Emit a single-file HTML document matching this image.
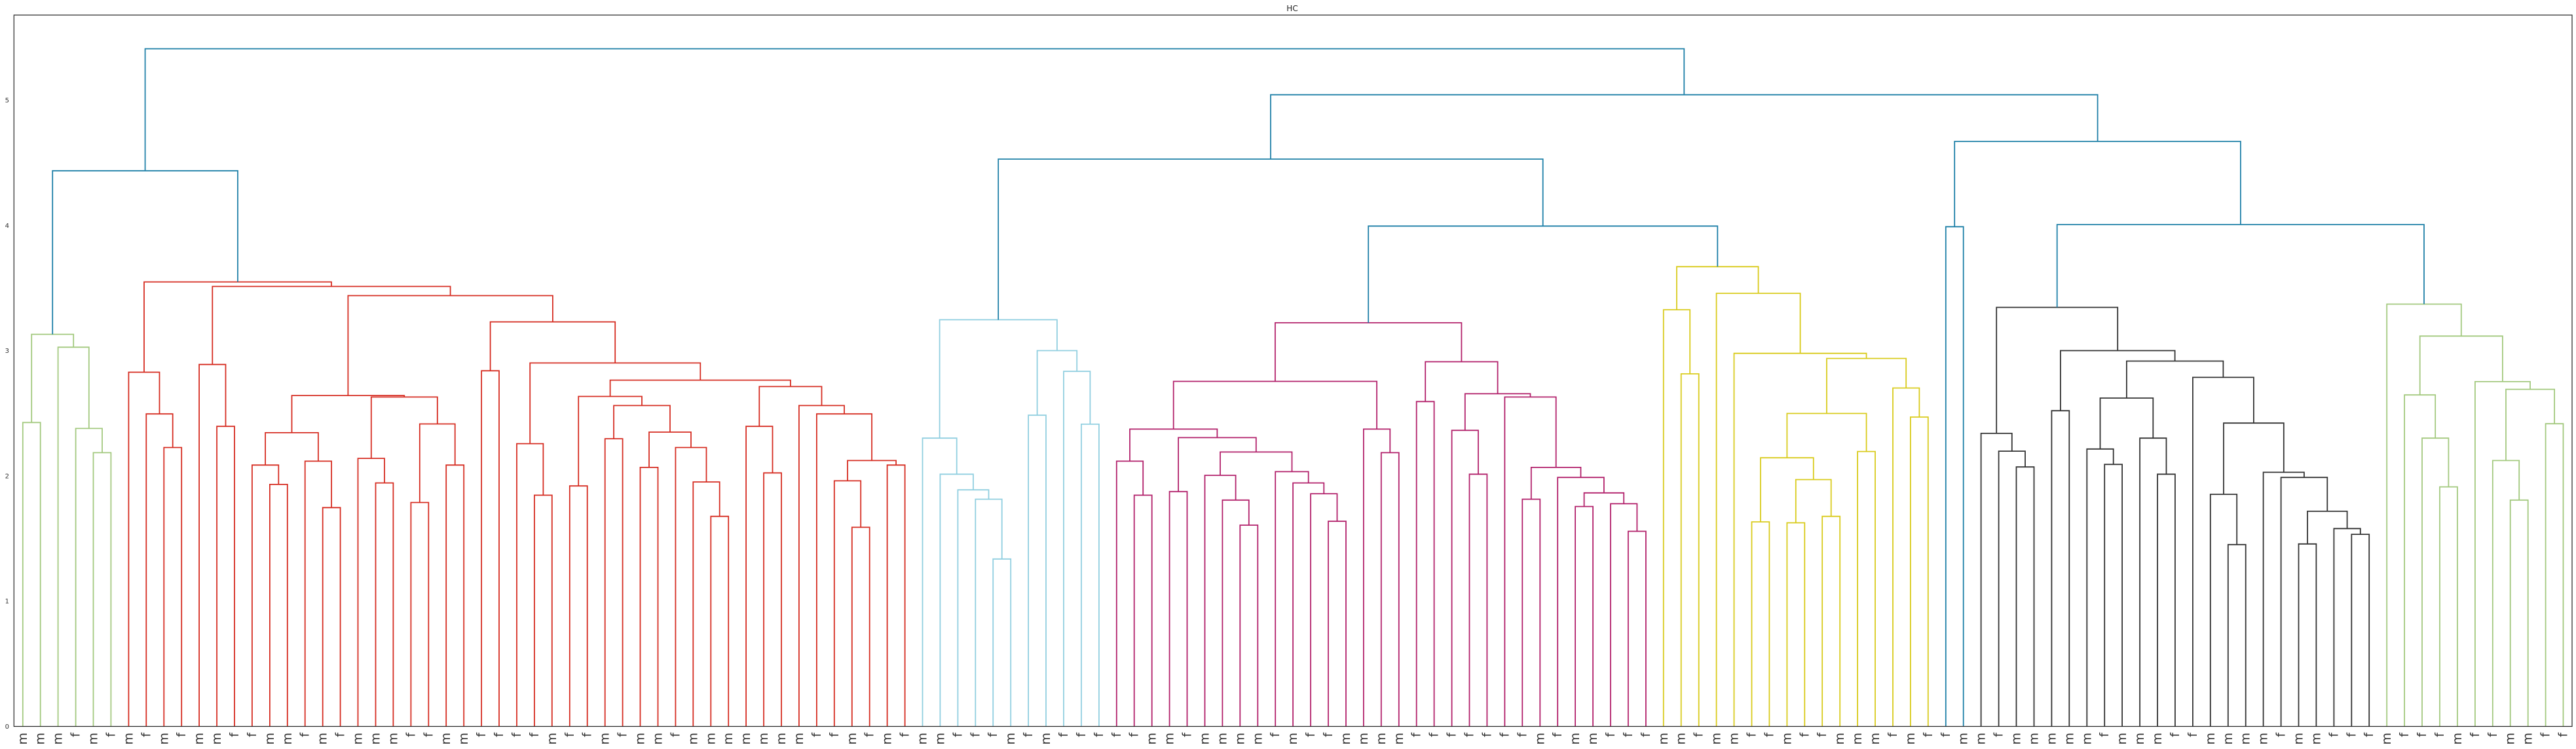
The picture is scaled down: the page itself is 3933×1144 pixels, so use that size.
<!DOCTYPE html>
<html><head><meta charset="utf-8"><title>HC</title>
<style>html,body{margin:0;padding:0;background:#fff}svg{display:block}</style></head>
<body>
<svg id="chart" xmlns="http://www.w3.org/2000/svg" width="3933" height="1144" viewBox="0 0 3933 1144">
<rect x="0" y="0" width="3933" height="1144" fill="#fff"/>
<text x="1973" y="17" font-family="DejaVu Sans, Liberation Sans, sans-serif" font-size="12" text-anchor="middle" fill="#222">HC</text>
<g id="links"></g>
<g id="yaxis"></g>
<g id="xaxis"></g>
<rect x="21.3" y="23" width="3905.7" height="1086.5" fill="none" stroke="#222" stroke-width="1.2"/>
</svg>
<script>
const leafLabels = ["m","m","m","f","m","f","m","f","m","f","m","m","f","f","m","m","f","m","f","m","m","m","f","f","m","m","f","f","f","f","m","f","f","m","f","m",
"m","f","m","m","m","m","m","m","m","f","f","m","f","m","f","m","m","f","f","f","m","f","m","f","f","f","f","f","m","m","f","m","m","m","m","f","m",
"f","f","m","m","m","m","f","f","f","f","f","f","f","m","f","m","m","f","f","f","m","m","f","m","m","f","f","m","f","f","m","m","m","f","m","f",
"f","m","m","f","m","m","m","m","m","f","m","m","m","f","f","m","m","m","m","f","m","m","f","f","f","m","f","f","f","m","f","f","m","m","f","f"];
const mergeLeft = ["0","4","3","2","#0","8","7","6","11","10","14","13","17","16","#11","20","19","22","24","#17","#16","#14","26","29","28","31","33","35","39","38","37","#27","#26","#25","42","41","47","46","49","#37","45","44","#35","#33","#24","#22","#21","#9","#7","#4",
"55","54","53","52","51","57","60","59","#55","#54",
"63","62","65","69","68","67","74","73","72","71","#65","#62","#61","77","76","#72","79","82","81","85","88","91","90","#80","87","#79","84","#78","#76","#75",
"94","93","98","100","102","#93","#92","104","#96","107","106","#98","97","96","#91",
"#89","#59","109",
"113","112","111","115","118","117","121","120","#113","125","124","129","132","131","#119","128","127","#118","123","#116","#111","#110",
"137","136","135","141","140","143","#134","139","#132","134",
"#129","#107","#106","#49"];
const mergeRight = ["1","5","#1","#2","#3","9","#5","#6","12","#8","15","#10","18","#12","#13","21","#15","23","25","#18","#19","#20","27","30","#23","32","34","36","40","#28","#29","#30","#31","#32","43","#34","48","#36","50","#38","#39","#40","#41","#42","#43","#44","#45","#46","#47","#48",
"56","#50","#51","#52","#53","58","61","#56","#57","#58",
"64","#60","66","70","#63","#64","75","#66","#67","#68","#69","#70","#71","78","#73","#74","80","83","#77","86","89","92","#81","#82","#83","#84","#85","#86","#87","#88",
"95","#90","99","101","103","#94","#95","105","#97","108","#99","#100","#101","#102","#103",
"#104","#105","110",
"114","#108","#109","116","119","#112","122","#114","#115","126","#117","130","133","#120","#121","#122","#123","#124","#125","#126","#127","#128",
"138","#130","#131","142","#133","144","#135","#136","#137","#138",
"#139","#140","#141","#142"];
const mergeHeight = [2.427,2.186,2.379,3.028,3.131,2.227,2.495,2.828,2.396,2.890,1.932,2.087,1.747,2.118,2.345,1.944,2.140,1.788,2.087,2.415,2.630,2.642,2.840,1.846,2.258,1.920,2.297,2.068,1.677,1.952,2.227,2.350,2.562,2.635,2.024,2.396,1.590,1.961,2.087,2.123,2.495,2.562,2.714,2.765,2.902,3.230,3.440,3.513,3.549,4.437,
1.337,1.814,1.889,2.014,2.302,2.485,2.413,2.835,3.001,3.247,
1.846,2.118,1.875,1.607,1.807,2.005,1.638,1.858,1.944,2.034,2.191,2.306,2.374,2.186,2.374,2.755,2.594,2.014,2.364,1.814,1.756,1.558,1.778,1.865,1.988,2.068,2.630,2.656,2.912,3.223,
2.815,3.327,1.633,1.626,1.677,1.971,2.145,2.195,2.499,2.470,2.702,2.938,2.979,3.458,3.671,
3.995,4.530,3.990,
2.072,2.198,2.340,2.521,2.092,2.215,2.014,2.302,2.622,1.452,1.853,1.457,1.534,1.580,1.718,1.988,2.029,2.422,2.787,2.917,3.001,3.346,
1.913,2.302,2.647,1.807,2.123,2.417,2.692,2.753,3.117,3.372,
4.007,4.671,5.044,5.411];
const yTicks = [0,1,2,3,4,5];
const clusterColors = ["#a3c97f","#d62d22","#91cfe0","#b2216b","#d9cb1c","#333333","#a3c97f"];
const aboveColor = "#1f80a8";
const colorThreshold = 3.8;

const NS = "http://www.w3.org/2000/svg";
const X0 = 21.3, X1 = 3927, Y0 = 1109.5, YTOP = 23, YMAX = 5.68;
const N = leafLabels.length;
const xScale = v => X0 + (v / (10 * N)) * (X1 - X0);
const yScale = h => Y0 - (h / YMAX) * (Y0 - YTOP);

function ref(s) { return s[0] === "#" ? { m: +s.slice(1) } : { l: +s }; }
const nodeX = [], nodeH = [];
function pos(r) { return r.l !== undefined ? [5 + 10 * r.l, 0] : [nodeX[r.m], nodeH[r.m]]; }
for (let k = 0; k < mergeHeight.length; k++) {
  const a = pos(ref(mergeLeft[k])), b = pos(ref(mergeRight[k]));
  nodeX[k] = (a[0] + b[0]) / 2; nodeH[k] = mergeHeight[k];
}
const parent = [];
for (let k = 0; k < mergeHeight.length; k++) {
  [mergeLeft[k], mergeRight[k]].forEach(s => { const r = ref(s); if (r.m !== undefined) parent[r.m] = k; });
}
const roots = [];
for (let k = 0; k < mergeHeight.length; k++) {
  if (mergeHeight[k] < colorThreshold && (parent[k] === undefined || mergeHeight[parent[k]] >= colorThreshold)) roots.push(k);
}
roots.sort((a, b) => nodeX[a] - nodeX[b]);
const mColor = [];
roots.forEach((r, i) => {
  const stack = [r];
  while (stack.length) {
    const k = stack.pop(); mColor[k] = clusterColors[i % clusterColors.length];
    [mergeLeft[k], mergeRight[k]].forEach(s => { const rr = ref(s); if (rr.m !== undefined) stack.push(rr.m); });
  }
});
const gl = document.getElementById("links");
for (let k = 0; k < mergeHeight.length; k++) {
  const a = pos(ref(mergeLeft[k])), b = pos(ref(mergeRight[k])), h = mergeHeight[k];
  const p = document.createElementNS(NS, "path");
  p.setAttribute("d", `M${xScale(a[0]).toFixed(1)},${yScale(a[1]).toFixed(1)}V${yScale(h).toFixed(1)}H${xScale(b[0]).toFixed(1)}V${yScale(b[1]).toFixed(1)}`);
  p.setAttribute("fill", "none");
  p.setAttribute("stroke", h >= colorThreshold ? aboveColor : mColor[k]);
  p.setAttribute("stroke-width", "1.8");
  
  
  gl.appendChild(p);
}
const gy = document.getElementById("yaxis");
yTicks.forEach(t => {
  const tx = document.createElementNS(NS, "text");
  tx.setAttribute("x", 14); tx.setAttribute("y", yScale(t) + 3.5);
  tx.setAttribute("text-anchor", "end");
  tx.setAttribute("font-family", "DejaVu Sans, Liberation Sans, sans-serif");
  tx.setAttribute("font-size", "10"); tx.setAttribute("fill", "#333");
  tx.textContent = t;
  
  
  gy.appendChild(tx);
});
const gx = document.getElementById("xaxis");
leafLabels.forEach((lab, i) => {
  const x = xScale(5 + 10 * i), y = 1119;
  const tx = document.createElementNS(NS, "text");
  tx.setAttribute("x", x); tx.setAttribute("y", y);
  tx.setAttribute("transform", `rotate(-90 ${x} ${y})`);
  tx.setAttribute("text-anchor", "end");
  tx.setAttribute("dominant-baseline", "central");
  tx.setAttribute("font-family", "DejaVu Sans, Liberation Sans, sans-serif");
  tx.setAttribute("font-size", "19"); tx.setAttribute("fill", "#333");
  tx.textContent = lab;
  
  
  gx.appendChild(tx);
});
</script>
</body></html>
